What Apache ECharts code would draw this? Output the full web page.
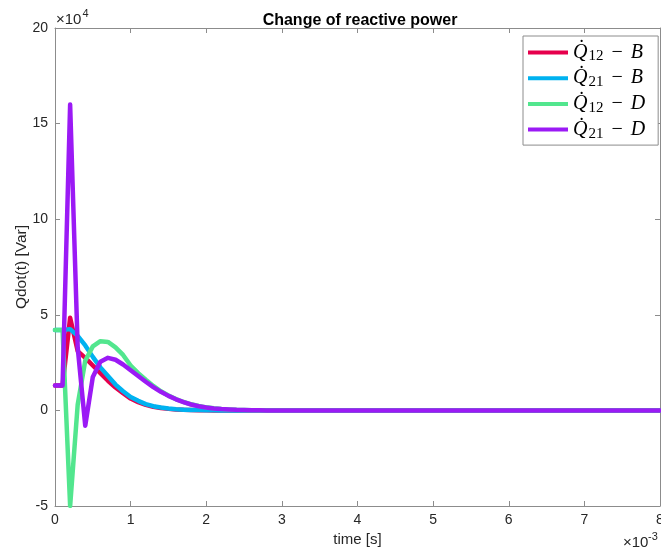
<!DOCTYPE html>
<html>
<head>
<meta charset="utf-8">
<script src="https://cdn.jsdelivr.net/npm/echarts@6/dist/echarts.min.js"></script>
<style>html,body{margin:0;padding:0;background:#fff;overflow:hidden}#c{width:661px;height:550px}</style>
</head>
<body>
<div id="c"></div>
<script>
// time in units of 1e-3 s, reactive power in units of 1e4 Var
const timeMs = [0,0.1,0.2,0.3,0.4,0.5,0.6,0.7,0.8,0.9,1.0,1.1,1.2,1.3,1.4,1.5,1.6,1.7,1.8,1.9,2.0,2.1,2.2,2.3,2.4,2.5,2.6,2.7,2.8,2.9,3.0,4,5,6,7,8];
const q12B = [1.3,1.3,4.85,3.1,2.75,2.35,1.95,1.55,1.2,0.9,0.62,0.43,0.29,0.19,0.12,0.08,0.05,0.03,0.02,0.01,0.005,0,0,0,0,0,0,0,0,0,0,0,0,0,0,0];
const q21B = [4.2,4.2,4.25,3.9,3.4,2.8,2.25,1.8,1.35,1.0,0.7,0.5,0.33,0.22,0.15,0.1,0.06,0.04,0.025,0.015,0.01,0.005,0,0,0,0,0,0,0,0,0,0,0,0,0,0];
const q12D = [4.2,4.2,-5,0.3,2.6,3.35,3.62,3.58,3.3,2.9,2.35,1.95,1.6,1.28,1.0,0.78,0.59,0.44,0.32,0.23,0.16,0.11,0.07,0.05,0.03,0.02,0.01,0.005,0,0,0,0,0,0,0,0];
const q21D = [1.3,1.3,16.0,3.3,-0.8,1.75,2.55,2.75,2.65,2.4,2.1,1.8,1.5,1.22,0.97,0.76,0.58,0.43,0.31,0.22,0.15,0.1,0.07,0.05,0.03,0.02,0.01,0.005,0,0,0,0,0,0,0,0];
const xTicks = [0,1,2,3,4,5,6,7,8];
const yTicks = [-5,0,5,10,15,20];
const seriesNames = ['Q12-B','Q21-B','Q12-D','Q21-D'];
const subs = ['12','21','12','21'];
const suffixes = ['B','B','D','D'];
const colors = ['#E6004C','#00B2F0','#52E68E','#9B1AF5'];
const values = [q12B,q21B,q12D,q21D];

const chart = echarts.init(document.getElementById('c'), null, {renderer:'canvas', width:661, height:550});
const axisColor = '#8c8c8c';
const labelColor = '#262626';
const sans = 'Liberation Sans, Arial, sans-serif';
const serif = 'Liberation Serif, serif';

function mkAxisX(pos, show){
  return {type:'value', position:pos, min:xTicks[0], max:xTicks[xTicks.length-1], interval:1,
    axisLine:{show:true, onZero:false, lineStyle:{color:axisColor, width:1}},
    axisTick:{show:true, inside:true, length:5, lineStyle:{color:axisColor}},
    axisLabel:{show:show, color:labelColor, fontSize:14, fontFamily:sans, margin:7},
    splitLine:{show:false}};
}
function mkAxisY(pos, show){
  return {type:'value', position:pos, min:yTicks[0], max:yTicks[yTicks.length-1], interval:5,
    axisLine:{show:true, onZero:false, lineStyle:{color:axisColor, width:1}},
    axisTick:{show:true, inside:true, length:5, lineStyle:{color:axisColor}},
    axisLabel:{show:show, color:labelColor, fontSize:14, fontFamily:sans, margin:7},
    splitLine:{show:false}};
}

const option = {
  backgroundColor:'#fff',
  animation:false,
  title:{text:'Change of reactive power', left:355, top:8, textAlign:'center',
    textStyle:{fontSize:16, fontWeight:'bold', color:'#000', fontFamily:sans}},
  grid:{left:55, top:28, right:1, bottom:44, containLabel:false, outerBoundsMode:'none'},
  xAxis:[mkAxisX('bottom', true), mkAxisX('top', false)],
  yAxis:[mkAxisY('left', true), mkAxisY('right', false)],
  legend:{
    data:seriesNames, orient:'vertical', left:523, top:36,
    icon:'rect', itemWidth:40, itemHeight:4, itemGap:2.7, itemTextGap:4,
    padding:[5,13,4,5], borderColor:axisColor, borderWidth:1, backgroundColor:'#fff',
    formatter:function(name){
      const i = seriesNames.indexOf(name);
      return '{q|Q\u0307}{s|' + subs[i] + '}{m|\u2212}{v|' + suffixes[i] + '}';
    },
    textStyle:{color:'#000', lineHeight:23, rich:{
      q:{fontFamily:serif, fontStyle:'italic', fontSize:20, lineHeight:23, color:'#000'},
      s:{fontFamily:serif, fontSize:15, lineHeight:18, verticalAlign:'bottom', padding:[5,0,0,1], color:'#000'},
      m:{fontFamily:serif, fontSize:20, lineHeight:23, padding:[0,8,0,8], color:'#000'},
      v:{fontFamily:serif, fontStyle:'italic', fontSize:20, lineHeight:23, color:'#000'}
    }}
  },
  series: seriesNames.map(function(n, i){
    return {name:n, type:'line', xAxisIndex:0, yAxisIndex:0, symbol:'none', showSymbol:false,
      color:colors[i], z:2+i,
      lineStyle:{color:colors[i], width:4.5, cap:'round', join:'round'},
      data: timeMs.map(function(t, k){ return [t, values[i][k]]; })};
  }),
  graphic:[
    {type:'text', left:56, top:12, style:{text:'\u00d710', fontSize:15, fontFamily:sans, fill:labelColor}},
    {type:'text', left:82.5, top:8, style:{text:'4', fontSize:11, fontFamily:sans, fill:labelColor}},
    {type:'text', left:623, top:535, style:{text:'\u00d710', fontSize:15, fontFamily:sans, fill:labelColor}},
    {type:'text', left:648, top:531, style:{text:'-3', fontSize:11, fontFamily:sans, fill:labelColor}},
    {type:'text', x:357.5, y:540, style:{text:'time [s]', fontSize:15, fontFamily:sans, fill:labelColor, textAlign:'center', textVerticalAlign:'middle'}},
    {type:'text', x:21.5, y:267, rotation:Math.PI/2, style:{text:'Qdot(t) [Var]', fontSize:15.5, fontFamily:sans, fill:labelColor, textAlign:'center', textVerticalAlign:'middle'}}
  ]
};
chart.setOption(option);
</script>
</body>
</html>
